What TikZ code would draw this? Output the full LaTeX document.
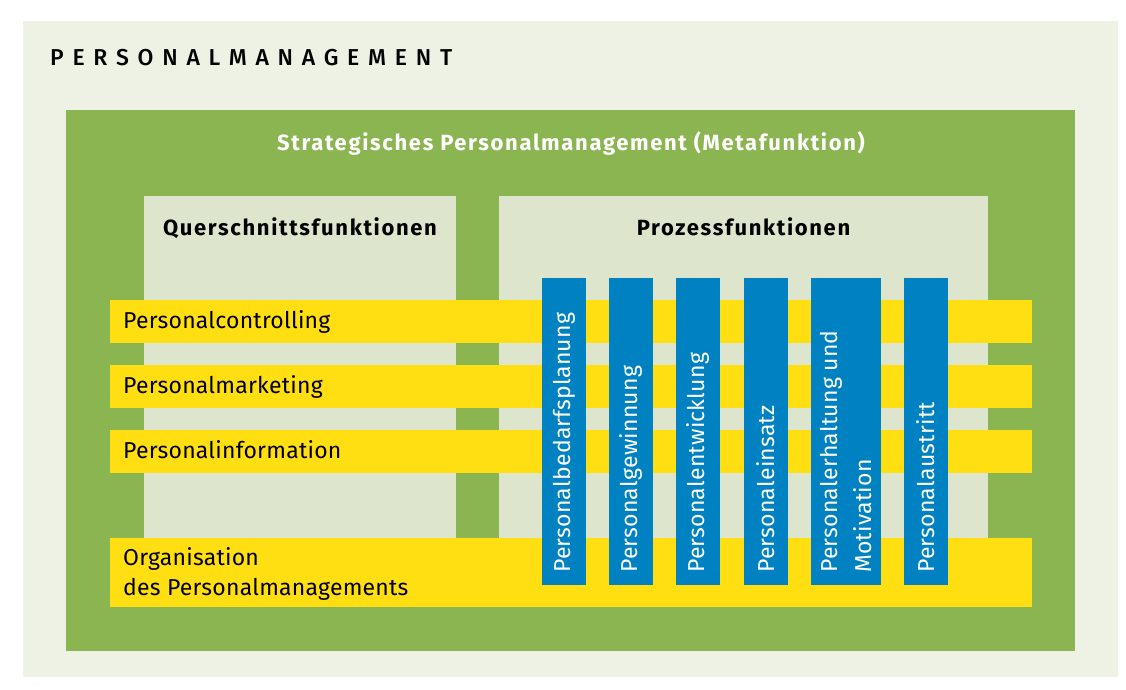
\documentclass[tikz,border=0pt]{standalone}
\usepackage{fontspec}
\setmainfont{Fira Sans}[LetterSpace=1]
\newfontfamily\spacedfont[LetterSpace=38]{Fira Sans Medium}
\newfontfamily\headfont[LetterSpace=7.5]{Fira Sans Bold}
\definecolor{paleback}{HTML}{EDF2E4}
\definecolor{leafgreen}{HTML}{8BB550}
\definecolor{panelgreen}{HTML}{DDE6CC}
\definecolor{baryellow}{HTML}{FFDF12}
\definecolor{colblue}{HTML}{0081C2}
\begin{document}
\begin{tikzpicture}[x=1pt,y=-1pt,
  area/.style={inner sep=0pt, outer sep=0pt, anchor=north west, draw=none},
  bartext/.style={anchor=base west, inner sep=0pt, font=\fontsize{23}{30}\selectfont, align=left},
  headtext/.style={anchor=base, inner sep=0pt, font=\fontsize{22}{26}\selectfont\headfont},
  coltext/.style={anchor=west, rotate=90, inner sep=0pt, text=white, align=left,
    font=\fontsize{23}{34}\selectfont}]
\useasboundingbox (0,0) rectangle (1126,689);

% background layers
\node[area, fill=paleback, minimum width=1095pt, minimum height=656pt] (frame) at (23,21) {};
\node[area, fill=leafgreen, minimum width=1009pt, minimum height=541pt] (meta) at (66,110) {};
\node[area, fill=panelgreen, minimum width=312pt, minimum height=342pt] (quer) at (144,196) {};
\node[area, fill=panelgreen, minimum width=489pt, minimum height=342pt] (proz) at (499,196) {};

% horizontal bars
\node[area, fill=baryellow, minimum width=922pt, minimum height=43pt] (bar1) at (110,300) {};
\node[area, fill=baryellow, minimum width=922pt, minimum height=43pt] (bar2) at (110,365) {};
\node[area, fill=baryellow, minimum width=922pt, minimum height=43pt] (bar3) at (110,430) {};
\node[area, fill=baryellow, minimum width=922pt, minimum height=69pt] (bar4) at (110,538) {};

% vertical columns
\node[area, fill=colblue, minimum width=44pt, minimum height=307pt] (col1) at (542,278) {};
\node[area, fill=colblue, minimum width=44pt, minimum height=307pt] (col2) at (609,278) {};
\node[area, fill=colblue, minimum width=44pt, minimum height=307pt] (col3) at (676,278) {};
\node[area, fill=colblue, minimum width=44pt, minimum height=307pt] (col4) at (744,278) {};
\node[area, fill=colblue, minimum width=70pt, minimum height=307pt] (col5) at (811,278) {};
\node[area, fill=colblue, minimum width=44pt, minimum height=307pt] (col6) at (904,278) {};

% titles
\node[anchor=base west, inner sep=0pt, font=\fontsize{23}{26}\selectfont\spacedfont] (title) at (50,65) {PERSONALMANAGEMENT};
\node[headtext, text=white] (metatitle) at (571,150) {Strategisches Personalmanagement (Metafunktion)};
\node[headtext] (quertitle) at (quer.center |- 0,235) {Querschnittsfunktionen};
\node[headtext] (proztitle) at (proz.center |- 0,235) {Prozessfunktionen};

% bar labels (the two-line label is anchored at its last baseline)
\node[bartext] (t1) at (123,328) {Personalcontrolling};
\node[bartext] (t2) at (123,393) {Personalmarketing};
\node[bartext] (t3) at (123,458) {Personalinformation};
\node[bartext] (t4) at (123,595) {Organisation\\des Personalmanagements};

% column labels
\node[coltext] (c1) at (col1.center |- 0,573) {Personalbedarfsplanung};
\node[coltext] (c2) at (col2.center |- 0,573) {Personalgewinnung};
\node[coltext] (c3) at (col3.center |- 0,573) {Personalentwicklung};
\node[coltext] (c4) at (col4.center |- 0,573) {Personaleinsatz};
\node[coltext] (c5) at (col5.center |- 0,573) {Personalerhaltung und\\Motivation};
\node[coltext] (c6) at (col6.center |- 0,573) {Personalaustritt};
\end{tikzpicture}
\end{document}
